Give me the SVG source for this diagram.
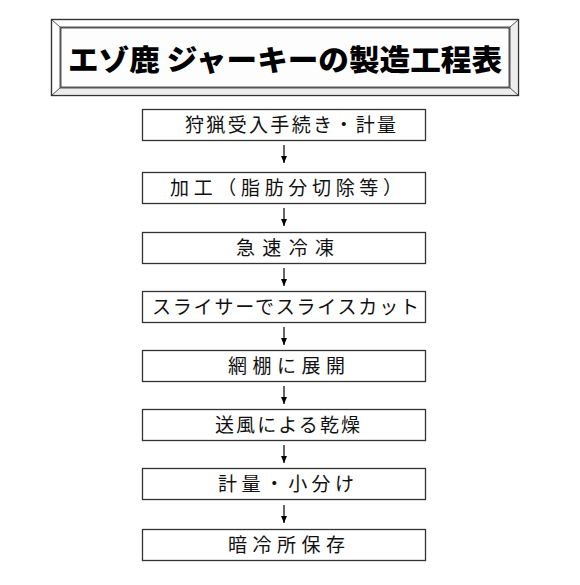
<svg xmlns="http://www.w3.org/2000/svg" width="580" height="585" viewBox="0 0 580 585">
<style>
.box{fill:#ffffff;stroke:#333333;stroke-width:1.3}
.lbl{font-family:"Noto Sans CJK JP","Noto Sans",sans-serif;font-size:19px;fill:#111111}
.title{font-family:"Noto Sans CJK JP","Noto Sans",sans-serif;font-size:29px;font-weight:900;fill:#000000}
.arr{stroke:#000000;stroke-width:1.2;fill:none;marker-end:url(#ah)}
.bev{stroke:#555555;stroke-width:1;fill:none}
</style>
<defs>
<marker id="ah" markerWidth="7" markerHeight="6" refX="7" refY="3" orient="auto" markerUnits="userSpaceOnUse" viewBox="0 0 7 6">
<path d="M0,0 L7,3 L0,6 Z" fill="#000000"/>
</marker>
</defs>
<rect width="580" height="585" fill="#ffffff"/>
<g id="title">
<rect x="51.5" y="19.5" width="467" height="76" fill="#ffffff" stroke="#333333" stroke-width="1.2"/>
<polygon points="509.5,27.5 518.5,19.5 518.5,95.5 509.5,87.5" fill="#ececec"/>
<polygon points="60.5,87.5 509.5,87.5 518.5,95.5 51.5,95.5" fill="#ececec"/>
<line class="bev" x1="51.5" y1="19.5" x2="60.5" y2="27.5"/>
<line class="bev" x1="518.5" y1="19.5" x2="509.5" y2="27.5"/>
<line class="bev" x1="51.5" y1="95.5" x2="60.5" y2="87.5"/>
<line class="bev" x1="518.5" y1="95.5" x2="509.5" y2="87.5"/>
<rect x="51.5" y="19.5" width="467" height="76" fill="none" stroke="#333333" stroke-width="1.2"/>
<rect x="60.5" y="27.5" width="449" height="60" fill="#fdfdfd" stroke="#555555" stroke-width="2"/>
<text class="title" x="68" y="71" textLength="434" lengthAdjust="spacingAndGlyphs">エゾ鹿 ジャーキーの製造工程表</text>
</g>
<g id="connectors">
<line class="arr" x1="284" y1="145" x2="284" y2="163"/>
<line class="arr" x1="284" y1="208" x2="284" y2="226"/>
<line class="arr" x1="284" y1="268" x2="284" y2="286"/>
<line class="arr" x1="284" y1="327" x2="284" y2="345"/>
<line class="arr" x1="284" y1="386" x2="284" y2="404"/>
<line class="arr" x1="284" y1="445" x2="284" y2="463"/>
<line class="arr" x1="284" y1="505" x2="284" y2="523"/>
</g>
<g id="n1"><rect class="box" x="142.5" y="109.5" width="283" height="31"/><text class="lbl" x="185" y="132" textLength="211" lengthAdjust="spacing">狩猟受入手続き・計量</text></g>
<g id="n2"><rect class="box" x="142.5" y="172.5" width="283" height="31"/><text class="lbl" x="170" y="195" textLength="232" lengthAdjust="spacing">加工（脂肪分切除等）</text></g>
<g id="n3"><rect class="box" x="142.5" y="232.5" width="283" height="31"/><text class="lbl" x="236" y="255" textLength="98" lengthAdjust="spacing">急速冷凍</text></g>
<g id="n4"><rect class="box" x="142.5" y="291.5" width="283" height="31"/><text class="lbl" x="152" y="314" textLength="267" lengthAdjust="spacing">スライサーでスライスカット</text></g>
<g id="n5"><rect class="box" x="142.5" y="350.5" width="283" height="31"/><text class="lbl" x="228" y="373" textLength="117" lengthAdjust="spacing">網棚に展開</text></g>
<g id="n6"><rect class="box" x="142.5" y="409.5" width="283" height="31"/><text class="lbl" x="215" y="432" textLength="145" lengthAdjust="spacing">送風による乾燥</text></g>
<g id="n7"><rect class="box" x="142.5" y="468.5" width="283" height="31"/><text class="lbl" x="218" y="491" textLength="136" lengthAdjust="spacing">計量・小分け</text></g>
<g id="n8"><rect class="box" x="142.5" y="529.5" width="283" height="31"/><text class="lbl" x="228" y="552" textLength="117" lengthAdjust="spacing">暗冷所保存</text></g>
</svg>
